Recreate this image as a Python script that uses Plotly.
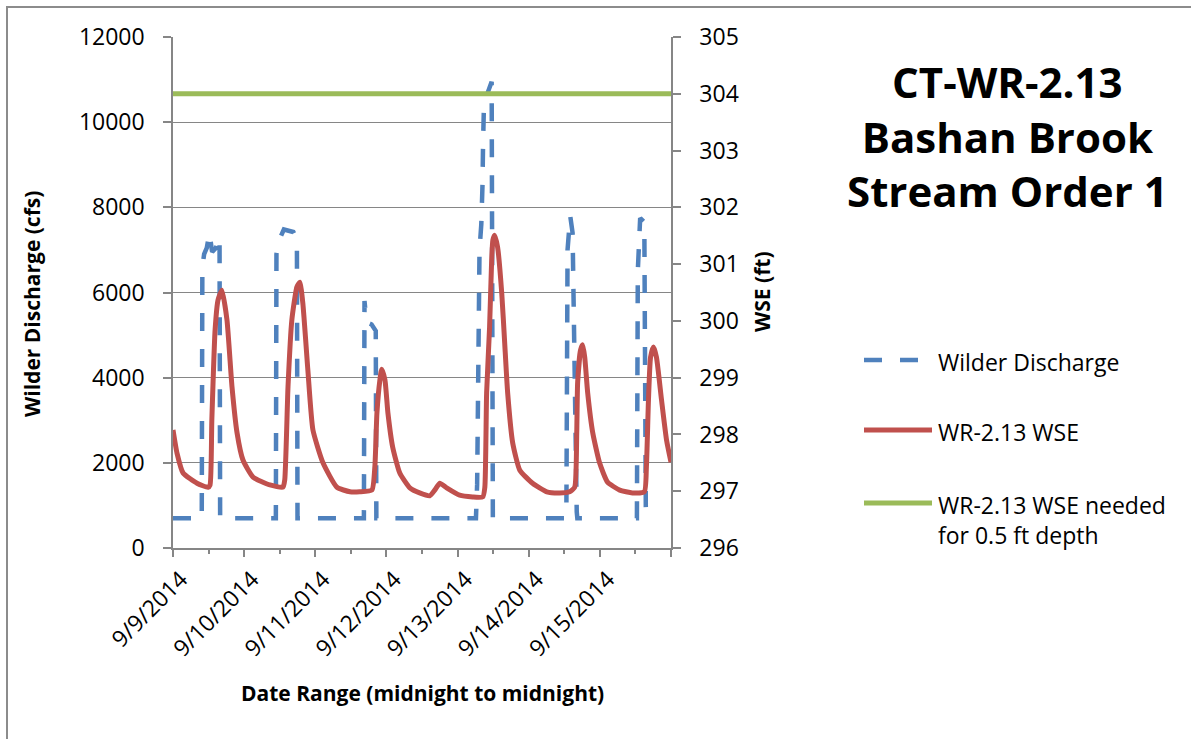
import pandas as pd
import plotly.graph_objects as go

# ---------------- data ----------------
BASE_DATE = "2014-09-09"

# Wilder Discharge (cfs) - hours after 9/9/2014 00:00
q_hours = [0, 9.7, 9.9, 10.5, 11.4, 12.3, 13.2, 14.5, 15.4, 15.7, 15.9,
           34.7, 34.9, 35.6, 37.4, 39.0, 40.6, 41.8, 42.0,
           64.4, 64.6, 65.3, 67.0, 68.4, 68.6,
           102.2, 102.6, 103.4, 104.0, 104.4, 104.6, 104.9, 106.2, 107.5, 107.9,
           132.7, 133.1, 134.0, 134.8, 136.2, 136.4,
           156.5, 156.8, 157.6, 159.0, 159.5]
q_cfs = [700, 700, 6600, 6900, 7050, 7400, 6950, 7050, 7300, 7300, 700,
         700, 6900, 7200, 7480, 7450, 7420, 7250, 700,
         700, 5800, 5300, 5250, 5100, 700,
         700, 1500, 7000, 7600, 8500, 9500, 10400, 10700, 10950, 700,
         700, 7000, 7800, 7400, 850, 700,
         700, 6500, 7750, 7650, 960]

# WR-2.13 WSE (ft)
w_hours = [0, 1.35, 3.4, 8.1, 11.8, 12.5, 13.1, 14.2, 15.2, 16.5, 18.2, 19.9, 21.6, 23.6, 27.0, 32.7,
           37.1, 37.7, 38.8, 40.1, 41.8, 42.8, 43.8, 45.5, 47.2, 50.6, 55.3, 59.7,
           63.0, 67.1, 68.1, 68.8, 69.8, 70.4, 71.5, 72.5, 74.1, 76.5, 79.9, 83.2,
           86.6, 88.3, 90.0, 92.3, 96.7, 101.1,
           104.5, 105.2, 105.8, 106.8, 107.5, 107.9, 108.5, 109.5, 110.9, 111.9, 112.9, 114.6,
           117.0, 121.3, 126.1, 130.4, 133.8,
           135.5, 136.2, 136.5, 137.5, 138.2, 138.9, 139.9, 141.6, 143.9, 146.6, 150.7, 155.0,
           159.0, 159.7, 160.4, 161.1, 162.1, 163.1, 164.8, 166.5, 168.0]
w_ft = [298.08, 297.67, 297.32, 297.14, 297.07, 297.11, 298.25, 299.84, 300.37, 300.54, 300.02, 298.84, 298.03, 297.55, 297.25, 297.11,
        297.07, 297.20, 298.84, 300.02, 300.60, 300.68, 300.31, 299.13, 298.08, 297.50, 297.07, 296.99,
        296.99, 297.02, 297.43, 298.38, 298.96, 299.15, 298.96, 298.38, 297.78, 297.32, 297.06, 296.97,
        296.92, 297.02, 297.14, 297.06, 296.93, 296.90,
        296.90, 297.07, 298.73, 299.89, 301.07, 301.42, 301.51, 301.30, 300.49, 299.61, 298.73, 297.85,
        297.37, 297.14, 296.99, 296.97, 296.99,
        297.07, 298.03, 298.91, 299.49, 299.58, 299.36, 298.73, 298.03, 297.50, 297.16, 297.02, 296.97,
        296.99, 297.43, 298.61, 299.36, 299.54, 299.36, 298.61, 297.90, 297.51]

# WSE needed for 0.5 ft depth
need_hours = [0, 168]
need_ft = [304.0, 304.0]

tick_dates = ["2014-09-09", "2014-09-10", "2014-09-11", "2014-09-12",
              "2014-09-13", "2014-09-14", "2014-09-15", "2014-09-16"]
tick_text = ["9/9/2014", "9/10/2014", "9/11/2014", "9/12/2014",
             "9/13/2014", "9/14/2014", "9/15/2014", ""]

series_names = ["Wilder Discharge", "WR-2.13 WSE", "WR-2.13 WSE needed<br>for 0.5 ft depth"]

# ---------------- helpers ----------------
def to_dt(hours):
    return list(pd.Timestamp(BASE_DATE) + pd.to_timedelta(hours, unit="h"))

W, H = 1191, 739
L, R, T, B = 173, 671, 37, 548  # plot area in pixels
PW, PH = R - L, B - T

def px(x):
    return (x - L) / PW

def py(y):
    return (B - y) / PH

BLUE = "#4F81BD"
RED = "#C0504D"
GREEN = "#9BBB59"
GRID = "#868686"
FONT = "Open Sans"
DASH = "18px,18px"

fig = go.Figure()
fig.add_trace(go.Scatter(x=to_dt(q_hours), y=q_cfs, mode="lines", name="Wilder Discharge",
                         line=dict(color=BLUE, width=4.5, dash=DASH, simplify=False), yaxis="y"))
fig.add_trace(go.Scatter(x=to_dt(w_hours), y=w_ft, mode="lines", name="WR-2.13 WSE",
                         line=dict(color=RED, width=5, shape="spline", smoothing=0.5), yaxis="y2"))
fig.add_trace(go.Scatter(x=to_dt(need_hours), y=need_ft, mode="lines", name="WR-2.13 WSE needed",
                         line=dict(color=GREEN, width=5), yaxis="y2"))

fig.update_layout(
    width=W, height=H, autosize=False,
    margin=dict(l=L, r=W - R, t=T, b=H - B, pad=0),
    paper_bgcolor="white", plot_bgcolor="white",
    showlegend=False,
    font=dict(family=FONT, size=23, color="black"),
    xaxis=dict(
        type="date", range=[tick_dates[0], tick_dates[-1]],
        tickvals=tick_dates, ticktext=tick_text, tickangle=-45,
        ticks="outside", ticklen=7, tickcolor=GRID, tickwidth=1.5,
        showline=True, linecolor=GRID, linewidth=1.5, showgrid=False, zeroline=False,
        minor=dict(ticks="outside", ticklen=4, tickcolor=GRID, dtick=12 * 3600 * 1000, showgrid=False),
        tickfont=dict(size=23), ticklabelshift=8,
    ),
    yaxis=dict(
        range=[0, 12000], dtick=2000, tickformat="d", ticks="outside", ticklen=8, tickcolor=GRID, tickwidth=1.5,
        showline=True, linecolor=GRID, linewidth=1.5, showgrid=True, gridcolor=GRID, gridwidth=1.3,
        zeroline=False, ticklabelstandoff=14, tickfont=dict(size=23),
    ),
    yaxis2=dict(
        range=[296, 305], dtick=1, tickformat="d", overlaying="y", side="right", ticks="outside", ticklen=8,
        tickcolor=GRID, tickwidth=1.5, showline=True, linecolor=GRID, linewidth=1.5,
        showgrid=False, zeroline=False, ticklabelstandoff=14, tickfont=dict(size=23),
    ),
)

shapes = []
annotations = []
# chart border (left & top visible)
shapes.append(dict(type="rect", xref="paper", yref="paper", x0=px(7), x1=px(1250), y0=py(7), y1=py(800),
                   line=dict(color="#8C8C8C", width=2), fillcolor="rgba(0,0,0,0)", layer="below"))

# manual legend
legend_y = [360, 430, 503]
legend_styles = [dict(color=BLUE, width=4.5, dash=DASH),
                 dict(color=RED, width=5), dict(color=GREEN, width=5)]
for yy, st, name in zip(legend_y, legend_styles, series_names):
    shapes.append(dict(type="line", xref="paper", yref="paper", x0=px(864), x1=px(932),
                       y0=py(yy), y1=py(yy), line=st))
    annotations.append(dict(xref="paper", yref="paper", x=px(936), y=py(yy - 16), xanchor="left", yanchor="top",
                            text=name, showarrow=False, align="left", font=dict(size=23, family=FONT)))

# title
annotations.append(dict(xref="paper", yref="paper", x=px(1007), y=py(136), xanchor="center", yanchor="middle",
                        text="<b>CT-WR-2.13<br>Bashan Brook<br>Stream Order 1</b>", showarrow=False,
                        font=dict(size=42, family=FONT)))
# axis titles
annotations.append(dict(xref="paper", yref="paper", x=px(32), y=py(304), xanchor="center", yanchor="middle",
                        text="<b>Wilder Discharge (cfs)</b>", textangle=-90, showarrow=False,
                        font=dict(size=21, family=FONT)))
annotations.append(dict(xref="paper", yref="paper", x=px(762), y=py(292), xanchor="center", yanchor="middle",
                        text="<b>WSE (ft)</b>", textangle=-90, showarrow=False,
                        font=dict(size=21, family=FONT)))
annotations.append(dict(xref="paper", yref="paper", x=px(422), y=py(693), xanchor="center", yanchor="middle",
                        text="<b>Date Range (midnight to midnight)</b>", showarrow=False,
                        font=dict(size=21, family=FONT)))

fig.update_layout(shapes=shapes, annotations=annotations)
fig.write_html("out.html")
